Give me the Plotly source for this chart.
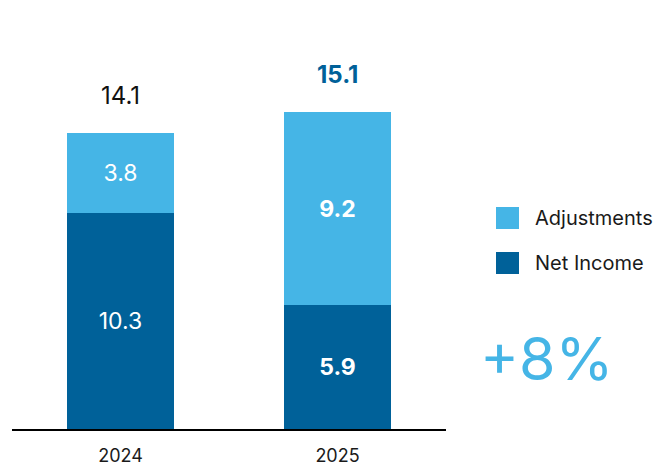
import plotly.graph_objects as go

# Data
years = ["2024", "2025"]
net_income = [10.3, 5.9]
adjustments = [3.8, 9.2]
totals = [14.1, 15.1]
growth_label = "+8%"

LIGHT = "#45B5E6"
DARK = "#006199"
FONT = "Inter"

# Latest year's segment labels are bold
def seg_text(vals):
    return [f"<b>{v}</b>" if i == len(vals) - 1 else f"{v}" for i, v in enumerate(vals)]

fig = go.Figure()
fig.add_trace(go.Bar(
    x=years, y=net_income, name="Net Income", marker_color=DARK,
    marker_line_width=0,
    text=seg_text(net_income), textposition="inside", insidetextanchor="middle",
    textangle=0, constraintext="none",
    textfont=dict(color="white", size=23, family=FONT),
))
fig.add_trace(go.Bar(
    x=years, y=adjustments, name="Adjustments", marker_color=LIGHT,
    marker_line_width=0,
    text=seg_text(adjustments), textposition="inside", insidetextanchor="middle",
    textangle=0, constraintext="none",
    textfont=dict(color="white", size=23, family=FONT),
))

# Totals above each stack (category index used for x position)
for i, t in enumerate(totals):
    last = i == len(totals) - 1
    fig.add_annotation(
        x=i, y=t, xref="x", yref="y",
        text=f"<b>{t}</b>" if last else f"{t}",
        showarrow=False, yanchor="bottom", yshift=21,
        font=dict(size=24, color=DARK if last else "#111111", family=FONT),
    )

# Custom legend on the right
legend_items = [("Adjustments", LIGHT, 207), ("Net Income", DARK, 252)]
for label, color, top in legend_items:
    fig.add_shape(
        type="rect", xref="paper", yref="paper",
        x0=(496 - 12) / 434, x1=(519 - 12) / 434,
        y0=(429 - (top + 22)) / 399, y1=(429 - top) / 399,
        fillcolor=color, line_width=0,
    )
    fig.add_annotation(
        xref="paper", yref="paper",
        x=(533 - 12) / 434, y=(429 - (top + 11)) / 399,
        text=label, showarrow=False, xanchor="left", yanchor="middle",
        font=dict(size=20, color="#1a1a1a", family=FONT),
    )

# Growth callout
fig.add_annotation(
    xref="paper", yref="paper",
    x=(546 - 12) / 434, y=(429 - 358) / 399,
    text=growth_label, showarrow=False, xanchor="center", yanchor="middle",
    font=dict(size=59, color=LIGHT, family=FONT),
)

fig.update_layout(
    barmode="stack",
    bargap=0.51,
    width=653, height=465,
    margin=dict(l=12, r=207, t=30, b=36, autoexpand=False),
    plot_bgcolor="white", paper_bgcolor="white",
    showlegend=False,
    font=dict(family=FONT, color="#1a1a1a"),
    xaxis=dict(
        type="category", automargin=False, range=[-0.5, 1.5],
        showline=True, linecolor="black", linewidth=2,
        showgrid=False, ticks="", ticklabelstandoff=9,
        tickfont=dict(size=18, color="#1a1a1a", family=FONT),
    ),
    yaxis=dict(
        range=[0, 19], visible=False, showgrid=False, zeroline=False,
        automargin=False,
    ),
)

fig.write_html("out.html")
